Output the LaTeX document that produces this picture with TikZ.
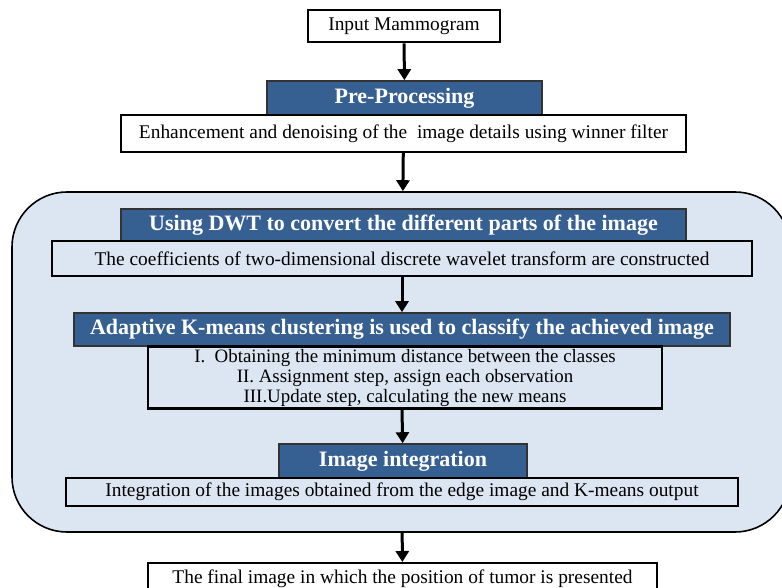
\documentclass[tikz,border=0pt]{standalone}
\usepackage{fontspec}
\setmainfont{Liberation Serif}
\usetikzlibrary{arrows.meta}
\definecolor{headblue}{HTML}{376092}
\definecolor{paleblue}{HTML}{DCE6F2}
\begin{document}
\begin{tikzpicture}[
    x=1pt, y=-1pt,
    plainbox/.style={rectangle, draw=black, line width=2.6pt, fill=white, inner sep=0pt,
        font=\fontsize{19.4}{22}\selectfont},
    headbox/.style={rectangle, draw=black!80, line width=1.6pt, fill=headblue, text=white,
        inner sep=0pt, font=\fontsize{22}{25}\selectfont\bfseries},
    innerbox/.style={rectangle, draw=black, line width=2.6pt, fill=paleblue, inner sep=0pt,
        font=\fontsize{19.4}{22}\selectfont},
    group/.style={rectangle, rounded corners=55pt, draw=black, line width=1.6pt, fill=paleblue},
    arrow/.style={-{Triangle[width=13pt,length=11pt]}, line width=3pt}
]
    \useasboundingbox (0,0) rectangle (782,588);
    \clip (0,0) rectangle (782,588);

    % Nodes
    \node[plainbox, minimum width=192pt, minimum height=32pt] (input) at (404,26) {Input Mammogram};
    \node[headbox, minimum width=275pt, minimum height=34pt] (prehead) at (404.5,98) {Pre-Processing};
    \node[plainbox, line width=2pt, minimum width=565pt, minimum height=37pt] (enhance) at (403.5,133.5)
        {Enhancement and denoising of the\ \ image details using winner filter};

    \node[group, minimum width=778pt, minimum height=340pt] (stage) at (401,362) {};

    \node[headbox, minimum width=565pt, minimum height=32pt] (dwthead) at (403.5,225)
        {Using DWT to convert the different parts of the image};
    \node[innerbox, minimum width=700pt, minimum height=35pt] (coeff) at (402,258.5)
        {The coefficients of two-dimensional discrete wavelet transform are constructed};
    \node[headbox, minimum width=656pt, minimum height=33pt] (kmhead) at (402,329.5)
        {Adaptive K-means clustering is used to classify the achieved image};
    \node[innerbox, minimum width=514pt, minimum height=62pt, align=center,
        font=\fontsize{18.9}{20}\selectfont] (steps) at (405,377.5)
        {I.\ \ Obtaining the minimum distance between the classes\\
         II. Assignment step, assign each observation\\
         III.Update step, calculating the new means};
    \node[headbox, minimum width=248pt, minimum height=34pt] (inthead) at (403,461) {Image integration};
    \node[innerbox, minimum width=672pt, minimum height=28pt] (integ) at (402,492)
        {Integration of the images obtained from the edge image and K-means output};

    \node[plainbox, line width=2pt, minimum width=509pt, minimum height=32pt] (final) at (402.5,579)
        {The final image in which the position of tumor is presented};

    % Arrows
    \draw[arrow] (input) -- (prehead);
    \draw[arrow] (enhance) -- (stage);
    \draw[arrow] (coeff) -- (kmhead);
    \draw[arrow] (steps.south -| kmhead) -- (inthead);
    \draw[arrow] (stage) -- (final);
\end{tikzpicture}
\end{document}
